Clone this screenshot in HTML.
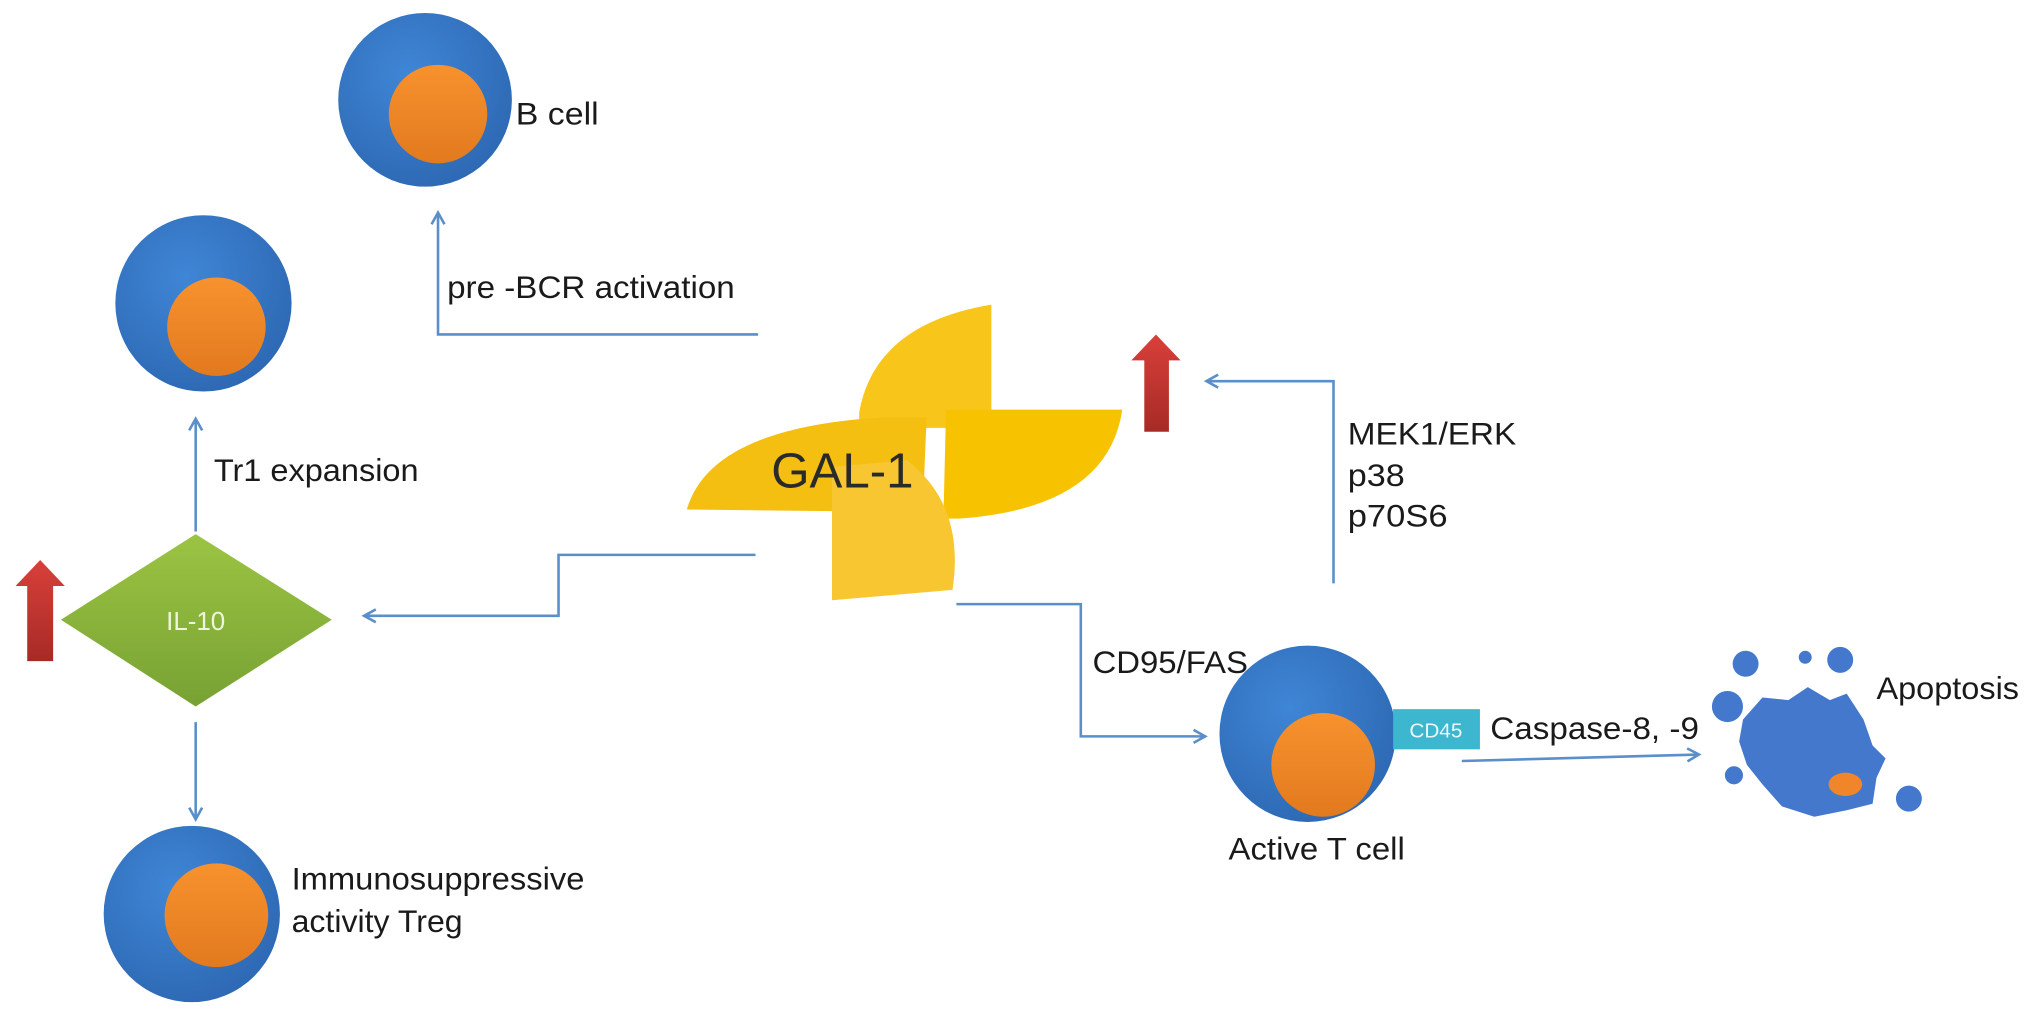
<!DOCTYPE html>
<html><head><meta charset="utf-8"><style>
html,body{margin:0;padding:0;background:#fff;}
svg{display:block;}
text{font-family:"Liberation Sans",sans-serif;fill:#1a1a1a;}
</style></head><body>
<svg width="2032" height="1019" viewBox="0 0 1568 786" preserveAspectRatio="none" xmlns="http://www.w3.org/2000/svg">
<defs>
<radialGradient id="cb" cx="0.4" cy="0.35" r="0.7"><stop offset="0" stop-color="#3f86d6"/><stop offset="1" stop-color="#2d68b3"/></radialGradient>
<linearGradient id="co" x1="0" y1="0" x2="0" y2="1"><stop offset="0" stop-color="#f7922e"/><stop offset="1" stop-color="#e27a1e"/></linearGradient>
<linearGradient id="ra" x1="0" y1="0" x2="0" y2="1"><stop offset="0" stop-color="#d9403a"/><stop offset="1" stop-color="#a72a26"/></linearGradient>
<linearGradient id="gd" x1="0" y1="0" x2="0" y2="1"><stop offset="0" stop-color="#9cc443"/><stop offset="1" stop-color="#77a233"/></linearGradient>
<marker id="ar" markerWidth="12" markerHeight="12" refX="10" refY="6" orient="auto" markerUnits="userSpaceOnUse"><path d="M1,1 L10,6 L1,11" fill="none" stroke="#5b8fc9" stroke-width="2"/></marker>
</defs>
<circle cx="328" cy="77" r="67" fill="url(#cb)"/><circle cx="338" cy="88" r="38" fill="url(#co)"/>
<circle cx="157" cy="234" r="68" fill="url(#cb)"/><circle cx="167" cy="252" r="38" fill="url(#co)"/>
<circle cx="148" cy="705" r="68" fill="url(#cb)"/><circle cx="167" cy="706" r="40" fill="url(#co)"/>
<circle cx="1009" cy="566" r="68" fill="url(#cb)"/><circle cx="1021" cy="590" r="40" fill="url(#co)"/>
<polygon points="151,412 256,478 151,545 47,478" fill="url(#gd)"/>
<text x="151" y="486" font-size="20" text-anchor="middle" style="fill:#eef5dc">IL-10</text>
<polygon points="31,432 50,452 41,452 41,510 21,510 21,452 12,452" fill="url(#ra)"/>
<polygon points="892,258 911,278 902,278 902,333 883,333 883,278 873,278" fill="url(#ra)"/>
<g>
<path d="M663,318 Q675,250 765,235 L765,330 L663,330 Z" fill="#f8c61a"/>
<path d="M730,316 L866,316 Q855,392 740,400 L728,400 Z" fill="#f7c300"/>
<path d="M530,393 Q548,330 680,322 L715,322 L712,395 Z" fill="#f4bf10"/>
<path d="M642,463 L642,360 L700,355 Q745,390 735,455 Z" fill="#f7c630"/>
</g>
<text x="650" y="376" font-size="38" text-anchor="middle" style="fill:#2a2a2a">GAL-1</text>
<g fill="none" stroke="#5b8fc9" stroke-width="2">
<polyline points="585,258 338,258 338,164" marker-end="url(#ar)"/>
<polyline points="151,410 151,323" marker-end="url(#ar)"/>
<polyline points="151,557 151,632" marker-end="url(#ar)"/>
<polyline points="583,428 431,428 431,475 281,475" marker-end="url(#ar)"/>
<polyline points="738,466 834,466 834,568 930,568" marker-end="url(#ar)"/>
<polyline points="1029,450 1029,294 931,294" marker-end="url(#ar)"/>
<polyline points="1128,587 1311,582" marker-end="url(#ar)"/>
</g>
<rect x="1075" y="547" width="67" height="31" fill="#3db6d0"/>
<text x="1108" y="569" font-size="16" text-anchor="middle" style="fill:#eaf8fb">CD45</text>
<g fill="#4478cc">
<path d="M1345,555 L1360,538 L1380,540 L1395,530 L1412,540 L1425,535 L1438,555 L1445,575 L1455,585 L1448,600 L1445,620 L1425,625 L1400,630 L1375,622 L1360,605 L1348,590 L1342,572 Z"/>
<circle cx="1347" cy="512" r="10"/><circle cx="1333" cy="545" r="12"/><circle cx="1393" cy="507" r="5"/>
<circle cx="1420" cy="509" r="10"/><circle cx="1338" cy="598" r="7"/><circle cx="1473" cy="616" r="10"/>
</g>
<ellipse cx="1424" cy="605" rx="13" ry="9" fill="#f0852a"/>
<g font-size="24">
<text x="398" y="96" textLength="64" lengthAdjust="spacingAndGlyphs">B cell</text>
<text x="345" y="230" textLength="222" lengthAdjust="spacingAndGlyphs">pre -BCR activation</text>
<text x="165" y="371" textLength="158" lengthAdjust="spacingAndGlyphs">Tr1 expansion</text>
<text x="225" y="686" textLength="226" lengthAdjust="spacingAndGlyphs">Immunosuppressive</text>
<text x="225" y="719" textLength="132" lengthAdjust="spacingAndGlyphs">activity Treg</text>
<text x="1040" y="343" textLength="130" lengthAdjust="spacingAndGlyphs">MEK1/ERK</text>
<text x="1040" y="375" textLength="44" lengthAdjust="spacingAndGlyphs">p38</text>
<text x="1040" y="406" textLength="77" lengthAdjust="spacingAndGlyphs">p70S6</text>
<text x="843" y="519" textLength="120" lengthAdjust="spacingAndGlyphs">CD95/FAS</text>
<text x="1150" y="570" textLength="161" lengthAdjust="spacingAndGlyphs">Caspase-8, -9</text>
<text x="1448" y="539" textLength="110" lengthAdjust="spacingAndGlyphs">Apoptosis</text>
<text x="948" y="663" textLength="136" lengthAdjust="spacingAndGlyphs">Active T cell</text>
</g>
</svg>
</body></html>
